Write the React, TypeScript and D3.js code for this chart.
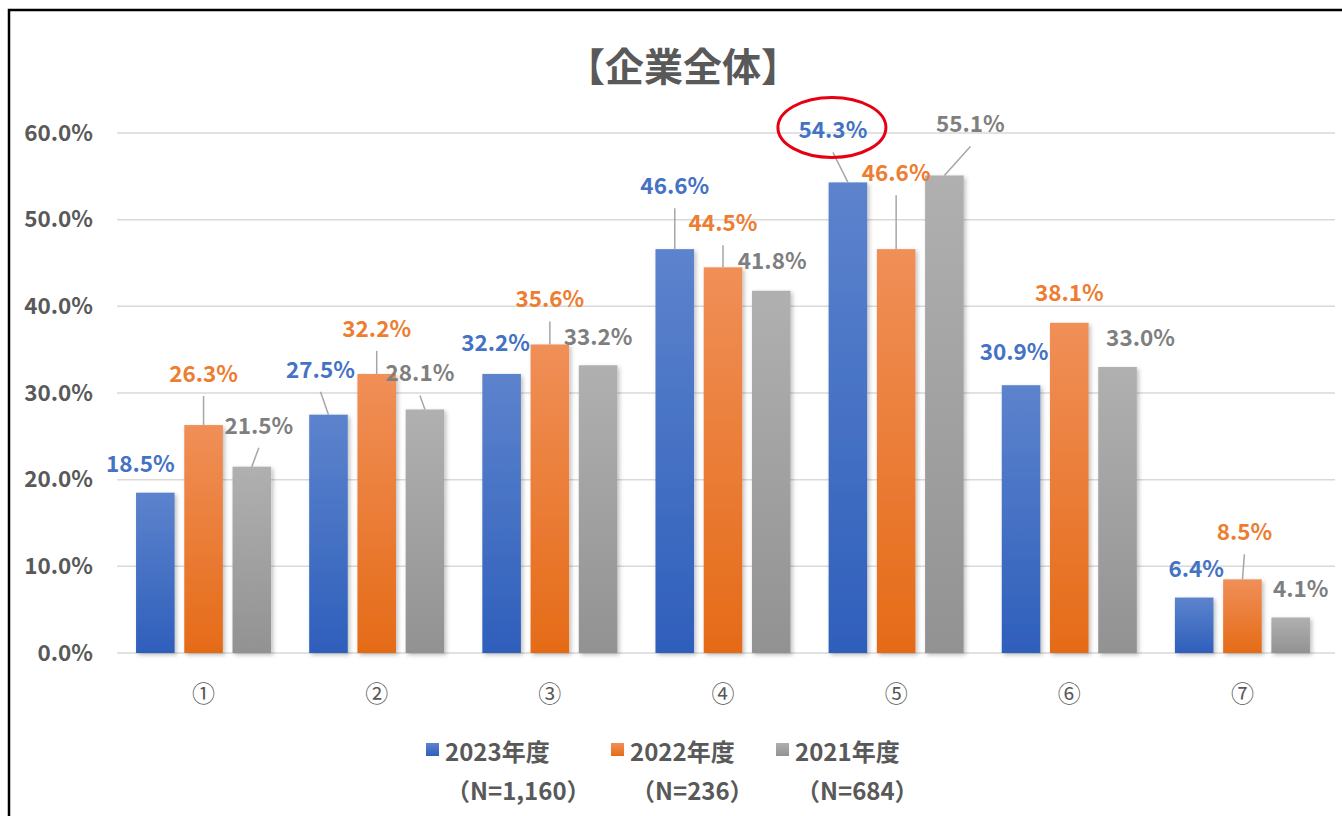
import * as d3 from "d3";
import { useRef, useEffect } from "react";

const categories = ["①", "②", "③", "④", "⑤", "⑥", "⑦"];
const seriesNames = ["2023年度", "2022年度", "2021年度"];
const seriesN = ["（N=1,160）", "（N=236）", "（N=684）"];
const values2023 = [18.5, 27.5, 32.2, 46.6, 54.3, 30.9, 6.4];
const values2022 = [26.3, 32.2, 35.6, 44.5, 46.6, 38.1, 8.5];
const values2021 = [21.5, 28.1, 33.2, 41.8, 55.1, 33.0, 4.1];
const yTicks = [0, 10, 20, 30, 40, 50, 60];

// hand-placed data labels (Excel style): [dx from bar centre, dy from bar top, leader?]
const labelOffsets2023: [number, number, boolean][] = [
  [-15, -31, false], [-8, -47, true], [-6, -33, false], [0, -65, true],
  [-15, -54, true], [-7, -35, false], [2, -31, false],
];
const labelOffsets2022: [number, number, boolean][] = [
  [0, -53, true], [0, -47, true], [0, -47, true], [0, -46, true],
  [0, -78, true], [0, -32, false], [2, -49, true],
];
const labelOffsets2021: [number, number, boolean][] = [
  [7, -43, true], [-5, -38, true], [0, -30, false], [1, -32, false],
  [26, -53, true], [23, -31, false], [10, -30, false],
];

const colors = [
  { top: "#5d83cd", bottom: "#2e5fbb", label: "#4472c4" },
  { top: "#f08f58", bottom: "#e56b17", label: "#ed7d31" },
  { top: "#b0b0b0", bottom: "#929292", label: "#7f7f7f" },
];

const W = 1342;
const H = 816;
const left = 117;
const right = 1329;
const yTop = 133;
const yBottom = 653;
const font = "'Noto Sans CJK JP', 'Noto Sans', sans-serif";
const textGray = "#595959";
const numSize = 22.5;

export default function App() {
  const gy = useRef<SVGGElement>(null);

  const x0 = d3.scaleBand().domain(categories).range([left, right]).paddingInner(0.22).paddingOuter(0.11);
  const x1 = d3.scaleBand().domain(seriesNames).range([0, x0.bandwidth()]).paddingInner(0.2);
  const y = d3.scaleLinear().domain([0, 60]).range([yBottom, yTop]);

  const series = [
    { name: seriesNames[0], values: values2023, offsets: labelOffsets2023 },
    { name: seriesNames[1], values: values2022, offsets: labelOffsets2022 },
    { name: seriesNames[2], values: values2021, offsets: labelOffsets2021 },
  ];

  useEffect(() => {
    const g = d3.select(gy.current);
    g.call(
      d3.axisLeft(y).tickValues(yTicks).tickSize(0).tickPadding(24)
        .tickFormat((d) => `${(+d).toFixed(1)}%`)
    );
    g.select(".domain").remove();
    g.selectAll("text")
      .attr("font-family", font)
      .attr("font-size", numSize)
      .attr("font-weight", "bold")
      .attr("fill", textGray);
  }, []);

  return (
    <svg width={W} height={H} style={{ position: "absolute", left: 0, top: 0, background: "#fff" }}>
      <defs>
        {colors.map((c, i) => (
          <linearGradient key={i} id={`grad${i}`} x1="0" y1="0" x2="0" y2="1">
            <stop offset="0%" stopColor={c.top} />
            <stop offset="100%" stopColor={c.bottom} />
          </linearGradient>
        ))}
        <filter id="shadow" x="-20%" y="-20%" width="140%" height="140%">
          <feDropShadow dx="2" dy="2" stdDeviation="2" floodColor="#000" floodOpacity="0.25" />
        </filter>
      </defs>

      <path d={`M9,${H + 2} V10 H${W + 2}`} fill="none" stroke="#000" strokeWidth={2.5} />

      <text x={683} y={64} textAnchor="middle" dominantBaseline="central" fontFamily={font}
        fontSize={39} fontWeight="bold" fill={textGray}>【企業全体】</text>

      {yTicks.map((t) => (
        <line key={t} x1={left} x2={right + 6} y1={y(t)} y2={y(t)} stroke="#d9d9d9" strokeWidth={1.5} />
      ))}
      <g ref={gy} transform={`translate(${left},0)`} />

      {series.map((s, si) => (
        <g key={s.name} filter="url(#shadow)">
          {s.values.map((v, ci) => {
            const bx = (x0(categories[ci]) ?? 0) + (x1(s.name) ?? 0);
            return (
              <rect key={ci} x={bx} y={y(v)} width={x1.bandwidth()} height={y(0) - y(v)}
                fill={`url(#grad${si})`} />
            );
          })}
        </g>
      ))}

      {series.map((s, si) => (
        <g key={s.name + "lab"}>
          {s.values.map((v, ci) => {
            const cx = (x0(categories[ci]) ?? 0) + (x1(s.name) ?? 0) + x1.bandwidth() / 2;
            const [dx, dy, leader] = s.offsets[ci];
            const lx = cx + dx;
            const ly = y(v) + dy;
            return (
              <g key={ci}>
                {leader && (
                  <line x1={lx} y1={ly + 24} x2={cx} y2={y(v)} stroke="#a6a6a6" strokeWidth={1.5} />
                )}
                <text x={lx} y={ly} textAnchor="middle" dominantBaseline="central" fontFamily={font}
                  fontSize={numSize} fontWeight="bold" fill={colors[si].label}>{v.toFixed(1)}%</text>
                {si === 0 && ci === 4 && (
                  <ellipse cx={lx - 1} cy={ly - 1} rx={54} ry={30} fill="none" stroke="#e60012" strokeWidth={3} />
                )}
              </g>
            );
          })}
        </g>
      ))}

      {categories.map((c) => (
        <text key={c} x={(x0(c) ?? 0) + x0.bandwidth() / 2} y={692} textAnchor="middle"
          dominantBaseline="central" fontFamily={font} fontSize={23} fill={textGray}>{c}</text>
      ))}

      {seriesNames.map((n, i) => {
        const lx = [426, 611, 776][i];
        return (
          <g key={n}>
            <rect x={lx} y={743} width={13} height={13} fill={`url(#grad${i})`} />
            <text x={lx + 19} y={750} dominantBaseline="central" fontFamily={font} fontSize={24}
              fontWeight="bold" fill={textGray}>{n}</text>
            <text x={lx + 20} y={789} dominantBaseline="central" fontFamily={font} fontSize={24}
              fontWeight="bold" fill={textGray}>{seriesN[i]}</text>
          </g>
        );
      })}
    </svg>
  );
}
